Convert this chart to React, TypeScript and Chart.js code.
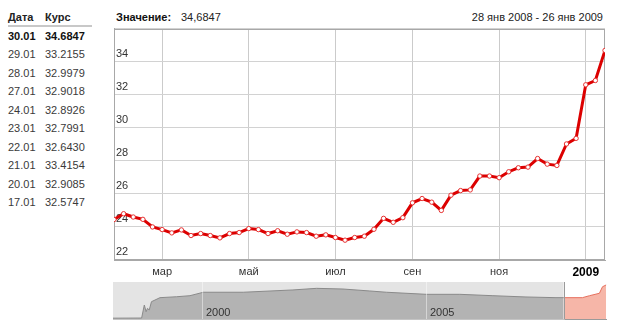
import React, { useEffect, useRef } from "react";
import { Chart, registerables } from "chart.js";
Chart.register(...registerables);

const FONT = "'Liberation Sans', Arial, sans-serif";

const tableDates = ["30.01", "29.01", "28.01", "27.01", "24.01", "23.01", "22.01", "21.01", "20.01", "17.01"];
const tableRates = ["34.6847", "33.2155", "32.9979", "32.9018", "32.8926", "32.7991", "32.6430", "33.4154", "32.9085", "32.5747"];

// weekly USD/RUB values, 28 Jan 2008 - 26 Jan 2009
const weeklyRates = [
  24.45, 24.8, 24.6, 24.46, 24.0, 23.84, 23.64, 23.82, 23.48, 23.6,
  23.48, 23.34, 23.6, 23.66, 23.9, 23.84, 23.6, 23.77, 23.56, 23.7,
  23.66, 23.44, 23.52, 23.36, 23.2, 23.36, 23.44, 23.86, 24.52, 24.28,
  24.56, 25.46, 25.72, 25.5, 25.0, 25.92, 26.2, 26.24, 27.08, 27.08,
  26.98, 27.34, 27.58, 27.62, 28.14, 27.8, 27.72, 29.02, 29.36, 32.6,
  32.86, 34.68,
];
const monthTickIndex = [5, 14, 23, 31, 40, 49];
const monthTickLabels = ["мар", "май", "июл", "сен", "ноя", "2009"];
const yMin = 22;
const yMax = 36;
const yStep = 2;

// long-term navigator series (fractional year, rate)
const navYears = [
  1998.0, 1998.64, 1998.7, 1998.74, 1998.77, 1998.81, 1998.86, 1999.05, 1999.42, 1999.72,
  2000.02, 2000.91, 2002.02, 2002.55, 2003.14, 2003.74, 2004.11, 2005.0, 2005.75, 2006.49,
  2007.23, 2007.9, 2008.07, 2008.49, 2008.65, 2008.87, 2008.94, 2009.02,
];
const navValues = [
  5.9, 6.0, 17.3, 11.5, 14.4, 13.0, 20.2, 23.7, 24.5, 25.4,
  28.4, 28.4, 30.4, 31.8, 31.2, 29.5, 28.4, 26.6, 26.6, 25.4,
  24.3, 23.7, 23.7, 23.7, 25.4, 27.5, 33.2, 34.7,
];
const navSelStart = 2008.07;
const navYearLabels = [2000, 2005];

export default function App() {
  const mainRef = useRef<HTMLCanvasElement>(null);
  const navRef = useRef<HTMLCanvasElement>(null);

  useEffect(() => {
    const borderPlugin = {
      id: "areaBorder",
      beforeDatasetsDraw(chart: any) {
        const { ctx, chartArea: a } = chart;
        ctx.save();
        ctx.strokeStyle = "#a8a8a8";
        ctx.lineWidth = 1;
        ctx.strokeRect(Math.round(a.left) + 0.5, Math.round(a.top) + 0.5, Math.round(a.right - a.left) - 1, Math.round(a.bottom - a.top) - 1);
        ctx.restore();
      },
    };
    const main = new Chart(mainRef.current!, {
      type: "line",
      data: {
        datasets: [
          {
            data: weeklyRates.map((v, i) => ({ x: i, y: v })),
            borderColor: "rgb(220,0,0)",
            borderWidth: 3,
            pointRadius: 2.2,
            pointBorderWidth: 1,
            pointBackgroundColor: "#ffffff",
            pointBorderColor: "rgb(230,50,50)",
            tension: 0,
            fill: false,
          },
        ],
      },
      options: {
        animation: false,
        responsive: false,
        maintainAspectRatio: false,
        layout: { padding: { top: 7, left: 14, right: 19, bottom: 0 } },
        plugins: { legend: { display: false }, tooltip: { enabled: false } },
        scales: {
          x: {
            type: "linear",
            min: 0,
            max: weeklyRates.length - 1,
            afterBuildTicks: (s: any) => {
              s.ticks = monthTickIndex.map((v) => ({ value: v }));
            },
            afterFit: (s: any) => {
              s.height = 25;
            },
            ticks: {
              autoSkip: false,
              maxRotation: 0,
              padding: 5,
              callback: (v: any) => monthTickLabels[monthTickIndex.indexOf(Number(v))] ?? "",
              font: (c: any) =>
                c.tick && c.tick.value === 49
                  ? { family: FONT, size: 12, weight: "bold" }
                  : { family: FONT, size: 11 },
              color: (c: any) => (c.tick && c.tick.value === 49 ? "#000" : "#333"),
            },
            grid: { color: "#cbcbcb", drawTicks: false },
            border: { color: "#a8a8a8" },
          },
          y: {
            min: yMin,
            max: yMax,
            afterFit: (s: any) => {
              s.width = 0;
            },
            ticks: {
              stepSize: yStep,
              mirror: true,
              padding: 2,
              labelOffset: -8,
              callback: (v: any) => (Number(v) >= yMax ? "" : String(v)),
              font: { family: FONT, size: 11 },
              color: "#333",
            },
            grid: { color: "#d2d2d2", drawTicks: false },
            border: { color: "#a8a8a8" },
          },
        },
      },
      plugins: [borderPlugin],
    });

    const hist: any[] = [];
    const sel: any[] = [];
    navYears.forEach((yr, i) => {
      if (yr <= navSelStart) hist.push({ x: yr, y: navValues[i] });
      if (yr >= navSelStart) sel.push({ x: yr, y: navValues[i] });
    });

    const navPlugin = {
      id: "navDecor",
      beforeDatasetsDraw(chart: any) {
        const { ctx, chartArea: a, scales } = chart;
        const xs = scales.x.getPixelForValue(navSelStart);
        ctx.save();
        ctx.fillStyle = "#e4e4e4";
        ctx.fillRect(a.left, a.top, a.right - a.left, a.bottom - a.top);
        ctx.fillStyle = "#ffffff";
        ctx.fillRect(xs, a.top, a.right - xs, a.bottom - a.top);
        ctx.restore();
      },
      afterDatasetsDraw(chart: any) {
        const { ctx, chartArea: a, scales } = chart;
        ctx.save();
        navYearLabels.forEach((yr) => {
          const x = Math.round(scales.x.getPixelForValue(yr)) + 0.5;
          ctx.strokeStyle = "rgba(255,255,255,0.45)";
          ctx.lineWidth = 1;
          ctx.beginPath();
          ctx.moveTo(x, a.top);
          ctx.lineTo(x, a.bottom);
          ctx.stroke();
          ctx.fillStyle = "#333";
          ctx.font = `11px ${FONT}`;
          ctx.textBaseline = "middle";
          ctx.textAlign = "left";
          ctx.fillText(String(yr), x + 3.5, a.bottom - 7);
        });
        const xs = Math.round(scales.x.getPixelForValue(navSelStart)) + 0.5;
        ctx.strokeStyle = "#9a9a9a";
        ctx.beginPath();
        ctx.moveTo(xs, a.top);
        ctx.lineTo(xs, a.bottom - 0.5);
        ctx.lineTo(a.right, a.bottom - 0.5);
        ctx.stroke();
        ctx.strokeStyle = "#c4c4c4";
        ctx.beginPath();
        ctx.moveTo(a.left, a.bottom - 0.5);
        ctx.lineTo(xs, a.bottom - 0.5);
        ctx.stroke();
        ctx.restore();
      },
    };

    const nav = new Chart(navRef.current!, {
      type: "line",
      data: {
        datasets: [
          { data: hist, borderColor: "#8a8a8a", borderWidth: 1, backgroundColor: "#b3b3b3", fill: "start", pointRadius: 0, tension: 0 },
          { data: sel, borderColor: "#e6705e", borderWidth: 1, backgroundColor: "#f6b6a8", fill: "start", pointRadius: 0, tension: 0 },
        ],
      },
      options: {
        animation: false,
        responsive: false,
        maintainAspectRatio: false,
        layout: { padding: 0 },
        plugins: { legend: { display: false }, tooltip: { enabled: false } },
        scales: {
          x: { type: "linear", display: false, min: 1998.0, max: 2009.04 },
          y: { display: false, min: 4.3, max: 37.3 },
        },
      },
      plugins: [navPlugin],
    });

    return () => {
      main.destroy();
      nav.destroy();
    };
  }, []);

  const txt: React.CSSProperties = { position: "absolute", fontSize: 11, lineHeight: "13px", whiteSpace: "nowrap" };

  return (
    <div style={{ position: "absolute", left: 0, top: 0, width: 624, height: 325, background: "#fff", fontFamily: FONT, color: "#333", overflow: "hidden" }}>
      <div style={{ ...txt, left: 8, top: 10.5, fontWeight: "bold", color: "#222" }}>Дата</div>
      <div style={{ ...txt, left: 45, top: 10.5, fontWeight: "bold", color: "#222" }}>Курс</div>
      <div style={{ position: "absolute", left: 8, top: 25, width: 84, height: 0, borderTop: "2px solid #c8c8c8" }} />
      {tableDates.map((d, i) => (
        <React.Fragment key={d}>
          <div style={{ ...txt, left: 8, top: 29.5 + i * 18.55, fontWeight: i === 0 ? "bold" : "normal", color: i === 0 ? "#111" : "#3a3a3a" }}>{d}</div>
          <div style={{ ...txt, left: 45, top: 29.5 + i * 18.55, fontWeight: i === 0 ? "bold" : "normal", color: i === 0 ? "#111" : "#3a3a3a" }}>{tableRates[i]}</div>
        </React.Fragment>
      ))}
      <div style={{ ...txt, left: 116, top: 10.5, fontWeight: "bold", color: "#111" }}>Значение:</div>
      <div style={{ ...txt, left: 181, top: 10.5, color: "#222" }}>34,6847</div>
      <div style={{ ...txt, right: 21, top: 10.5, color: "#222" }}>28 янв 2008 - 26 янв 2009</div>
      <canvas ref={mainRef} width={524} height={265} style={{ position: "absolute", left: 100, top: 20, width: 524, height: 265 }} />
      <canvas ref={navRef} width={494} height={38} style={{ position: "absolute", left: 113, top: 282, width: 494, height: 38 }} />
    </div>
  );
}
